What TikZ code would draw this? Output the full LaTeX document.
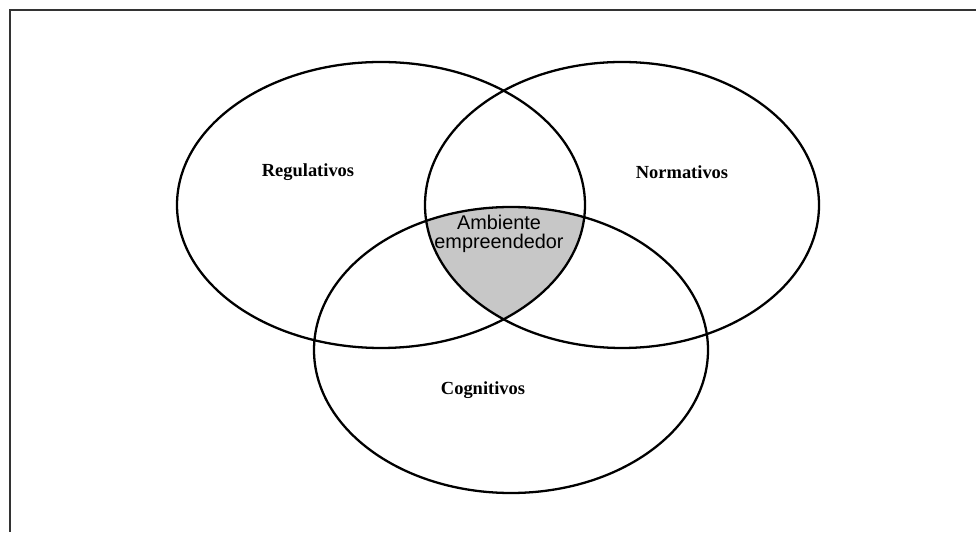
\documentclass[tikz,border=0pt]{standalone}
\usepackage{fontspec}
\setmainfont{Liberation Serif}
\newfontfamily\arialfont{Liberation Sans}

\begin{document}
\begin{tikzpicture}[x=0.2mm,y=0.2mm]
\tikzset{
	circle line/.style={draw, line width=1.3pt},
	field label/.style={font=\bfseries\fontsize{10.5}{12}\selectfont},
	core label/.style={font=\arialfont\fontsize{11.3}{10.5}\selectfont, align=center}
}
\useasboundingbox (0,0) rectangle (976,532);
% frame (top and left only)
\draw[line width=1.2pt, black!80] (976,522) -- (10,522) -- (10,0);
% shaded core
\begin{scope}
	\clip (381,327) ellipse [x radius=204, y radius=143];
	\clip (622,327) ellipse [x radius=197, y radius=143];
	\fill[black!22] (511,182) ellipse [x radius=197, y radius=143];
\end{scope}
% the three spheres
\draw[circle line] (381,327) ellipse [x radius=204, y radius=143];
\draw[circle line] (622,327) ellipse [x radius=197, y radius=143];
\draw[circle line] (511,182) ellipse [x radius=197, y radius=143];
\node[field label] (reg) at (308,360) {Regulativos};
\node[field label] (norm) at (682,360) {Normativos};
\node[field label] (cog) at (483,142) {Cognitivos};
\node[core label] (amb) at (499,298) {Ambiente\\empreendedor};
\end{tikzpicture}
\end{document}
